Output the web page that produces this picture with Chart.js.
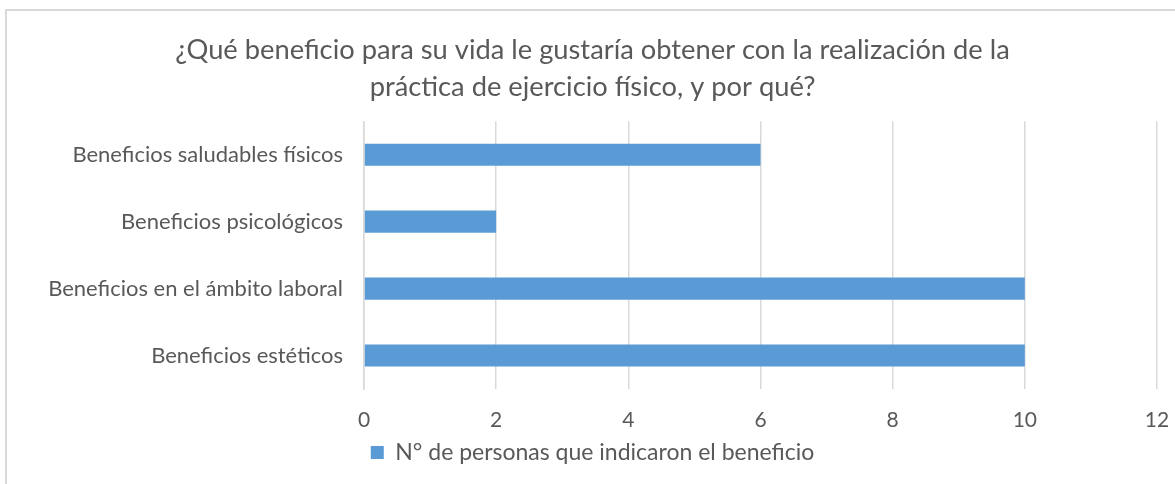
<!DOCTYPE html>
<html>
<head>
<meta charset="utf-8">
<script src="https://cdn.jsdelivr.net/npm/chart.js@4"></script>
<style>
	html, body { margin: 0; padding: 0; background: #fff; }
	#frame {
		position: absolute; left: 5px; top: 9px; width: 1200px; height: 500px;
		border-left: 2px solid #d9d9d9; border-top: 2px solid #d9d9d9;
	}
	#wrap { position: absolute; left: 0; top: 0; width: 1175px; height: 484px; }
</style>
</head>
<body>
<div id="frame"></div>
<div id="wrap"><canvas id="chart"></canvas></div>
<script>
const categories = ['Beneficios saludables físicos', 'Beneficios psicológicos', 'Beneficios en el ámbito laboral', 'Beneficios estéticos'];
const personas = [6, 2, 10, 10];
const seriesName = 'N° de personas que indicaron el beneficio';
const titleLines = ['¿Qué beneficio para su vida le gustaría obtener con la realización de la', 'práctica de ejercicio físico, y por qué?'];

const textColor = '#595959';
const gridColor = '#d9d9d9';
const fontFamily = 'Lato, "Open Sans", sans-serif';

const ctx = document.getElementById('chart');

new Chart(ctx, {
	type: 'bar',
	data: {
		labels: categories,
		datasets: [{
			label: seriesName,
			data: personas,
			backgroundColor: '#5b9bd5',
			borderWidth: 0,
			barPercentage: 0.66,
			categoryPercentage: 0.5
		}]
	},
	options: {
		indexAxis: 'y',
		responsive: true,
		maintainAspectRatio: false,
		animation: false,
		layout: { padding: { left: 10, right: 0, top: 18, bottom: 10 } },
		plugins: {
			title: {
				display: true,
				text: titleLines,
				color: textColor,
				font: { family: fontFamily, size: 27.3, weight: 'normal', lineHeight: 1.36 },
				padding: { top: 14, bottom: 15 }
			},
			legend: {
				position: 'bottom',
				labels: {
					color: textColor,
					font: { family: fontFamily, size: 23, lineHeight: 1 },
					boxWidth: 13,
					boxHeight: 13,
					padding: 0
				}
			},
			tooltip: { enabled: false }
		},
		scales: {
			x: {
				min: 0,
				max: 12,
				ticks: { stepSize: 2, color: textColor, font: { family: fontFamily, size: 21, lineHeight: 1 }, padding: 21 },
				grid: { color: gridColor, lineWidth: 1.5, drawTicks: false },
				border: { display: false },
				afterFit: function (scale) {
					scale.height = 52;
					scale.paddingRight = 18;
				}
			},
			y: {
				ticks: { color: textColor, font: { family: fontFamily, size: 22 }, padding: 13 },
				grid: { display: false },
				border: { display: true, color: gridColor, width: 1.5 },
				afterFit: function (scale) { scale.width = 354; }
			}
		}
	}
});
</script>
</body>
</html>
